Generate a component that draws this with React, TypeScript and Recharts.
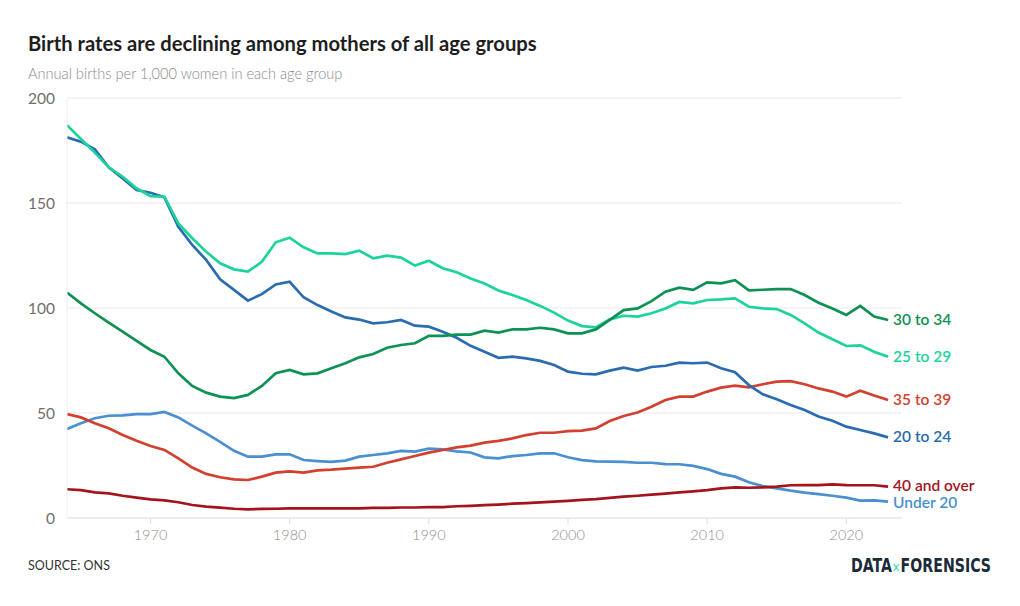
import React, { useLayoutEffect, useRef, useState } from "react";
import { LineChart, Line, XAxis, YAxis, CartesianGrid } from "recharts";

const years = [
  1964, 1965, 1966, 1967, 1968, 1969, 1970, 1971, 1972, 1973,
  1974, 1975, 1976, 1977, 1978, 1979, 1980, 1981, 1982, 1983,
  1984, 1985, 1986, 1987, 1988, 1989, 1990, 1991, 1992, 1993,
  1994, 1995, 1996, 1997, 1998, 1999, 2000, 2001, 2002, 2003,
  2004, 2005, 2006, 2007, 2008, 2009, 2010, 2011, 2012, 2013,
  2014, 2015, 2016, 2017, 2018, 2019, 2020, 2021, 2022, 2023,
];

const under20 = [
  42.4, 45.1, 47.5, 48.7, 48.9, 49.5, 49.5, 50.5, 47.9, 44.0,
  40.3, 36.3, 32.0, 29.2, 29.2, 30.3, 30.3, 27.6, 27.1, 26.7,
  27.3, 29.2, 30.0, 30.8, 32.0, 31.6, 33.0, 32.7, 31.7, 31.2,
  28.9, 28.4, 29.5, 30.0, 30.8, 30.8, 28.9, 27.6, 27.0, 26.8,
  26.7, 26.3, 26.3, 25.7, 25.6, 24.8, 23.3, 21.0, 19.7, 17.0,
  15.2, 14.1, 13.0, 12.1, 11.4, 10.6, 9.7, 8.3, 8.4, 7.8,
];

const age20to24 = [
  181.3, 179.2, 175.6, 167.0, 161.7, 156.2, 154.9, 152.7, 138.7, 130.0,
  122.9, 113.7, 108.6, 103.5, 106.6, 111.2, 112.5, 105.1, 101.4, 98.3,
  95.5, 94.5, 92.7, 93.2, 94.3, 91.6, 91.1, 88.7, 85.8, 82.0,
  79.2, 76.3, 76.8, 76.0, 74.8, 72.9, 69.7, 68.7, 68.4, 70.2,
  71.6, 70.2, 71.9, 72.5, 74.0, 73.7, 74.0, 71.3, 69.4, 63.3,
  58.9, 56.5, 53.8, 51.4, 48.3, 46.3, 43.5, 41.9, 40.3, 38.4,
];

const age25to29 = [
  187.1, 180.5, 174.0, 167.0, 162.5, 157.0, 153.3, 153.0, 140.3, 133.2,
  126.8, 121.3, 118.4, 117.3, 122.0, 131.3, 133.5, 128.9, 126.0, 126.0,
  125.7, 127.3, 123.7, 124.9, 124.0, 120.2, 122.5, 118.9, 117.0, 114.0,
  111.7, 108.3, 106.2, 103.8, 101.0, 97.8, 94.0, 91.4, 90.8, 94.6,
  96.3, 95.9, 97.5, 99.8, 102.9, 102.2, 103.8, 104.1, 104.6, 100.6,
  99.8, 99.5, 96.7, 92.7, 88.3, 85.1, 81.9, 82.2, 79.2, 76.8,
];

const age30to34 = [
  107.3, 102.2, 97.5, 93.0, 88.7, 84.3, 80.0, 76.8, 68.9, 62.9,
  59.7, 57.8, 57.1, 58.6, 62.9, 68.9, 70.5, 68.4, 68.9, 71.3,
  73.7, 76.5, 78.1, 81.1, 82.4, 83.2, 86.7, 86.7, 87.3, 87.3,
  89.2, 88.3, 89.8, 89.8, 90.6, 89.8, 87.9, 87.9, 89.8, 94.3,
  99.0, 99.8, 103.3, 107.8, 109.7, 108.6, 112.2, 111.7, 113.2, 108.4,
  108.7, 109.0, 109.0, 106.2, 102.5, 99.8, 96.7, 101.0, 95.9, 94.3,
];

const age35to39 = [
  49.5, 47.9, 45.1, 42.7, 39.5, 36.8, 34.3, 32.4, 28.4, 24.0,
  21.0, 19.4, 18.4, 18.1, 19.7, 21.6, 22.2, 21.6, 22.7, 23.0,
  23.5, 24.0, 24.4, 26.3, 27.9, 29.5, 31.1, 32.4, 33.6, 34.5,
  35.9, 36.7, 37.9, 39.5, 40.6, 40.6, 41.4, 41.6, 42.7, 46.2,
  48.6, 50.2, 53.0, 56.2, 57.8, 57.8, 60.2, 62.1, 63.0, 62.2,
  63.7, 64.9, 65.2, 63.7, 61.7, 60.2, 57.8, 60.6, 58.3, 56.2,
];

const age40plus = [
  13.7, 13.3, 12.2, 11.7, 10.6, 9.7, 8.9, 8.4, 7.5, 6.2,
  5.4, 4.9, 4.4, 4.1, 4.3, 4.4, 4.6, 4.6, 4.6, 4.6,
  4.6, 4.6, 4.8, 4.8, 5.0, 5.0, 5.2, 5.2, 5.6, 5.8,
  6.1, 6.4, 6.8, 7.1, 7.4, 7.8, 8.2, 8.6, 9.0, 9.6,
  10.2, 10.6, 11.1, 11.6, 12.2, 12.7, 13.3, 14.1, 14.6, 14.4,
  14.6, 14.9, 15.6, 15.7, 15.7, 16.0, 15.7, 15.6, 15.6, 14.9,
];

const xTicks = [1970, 1980, 1990, 2000, 2010, 2020];
const yTicks = [0, 50, 100, 150, 200];

const seriesDefs = [
  { key: "under20", name: "Under 20", values: under20, color: "#4a8fd0", dy: 6 },
  { key: "age40plus", name: "40 and over", values: age40plus, color: "#a3141b", dy: 4 },
  { key: "age35to39", name: "35 to 39", values: age35to39, color: "#d3402f", dy: 5 },
  { key: "age20to24", name: "20 to 24", values: age20to24, color: "#2a6cb0", dy: 5 },
  { key: "age25to29", name: "25 to 29", values: age25to29, color: "#1cd39b", dy: 5 },
  { key: "age30to34", name: "30 to 34", values: age30to34, color: "#0e9154", dy: 5 },
];

const data = years.map((year, i) => {
  const row: Record<string, number> = { year };
  seriesDefs.forEach((s) => {
    row[s.key] = s.values[i];
  });
  return row;
});

const FONT = "Lato, 'Open Sans', sans-serif";

const endLabel = (text: string, color: string, dy: number) => (props: any) => {
  if (props.index !== years.length - 1) return <g key={`e-${text}-${props.index}`} />;
  return (
    <text
      key={`lbl-${text}`}
      x={props.x + 5}
      y={props.y}
      dy={dy}
      fill={color}
      fontSize={15.5}
      fontWeight={600}
      fontFamily={FONT}
    >
      {text}
    </text>
  );
};

function Logo() {
  const ref = useRef<SVGTextElement | null>(null);
  const [sx, setSx] = useState(0.82);
  useLayoutEffect(() => {
    if (ref.current) {
      const w = ref.current.getComputedTextLength();
      if (w > 0) setSx(140 / w);
    }
  }, []);
  return (
    <g transform={`translate(851,572) scale(${sx},1)`}>
      <text
        ref={ref}
        x={0}
        y={0}
        fontFamily="'DejaVu Sans Condensed', 'DejaVu Sans', sans-serif"
        fontSize={19}
        fontWeight={700}
        fill="#1c2b3a"
      >
        DATA<tspan fill="#2bd1a0" fontWeight={400} fontSize={14}>×</tspan>FORENSICS
      </text>
    </g>
  );
}

export default function App() {
  return (
    <div
      style={{
        position: "absolute",
        left: 0,
        top: 0,
        width: 1020,
        height: 606,
        background: "#ffffff",
        overflow: "hidden",
      }}
    >
      <div style={{ position: "absolute", left: 0, top: 0 }}>
        <LineChart
          width={1020}
          height={606}
          data={data}
          margin={{ top: 98, right: 118, bottom: 58, left: 27 }}
        >
          <CartesianGrid vertical={false} stroke="#e9e9e9" />
          <XAxis
            dataKey="year"
            type="number"
            domain={[1964, 2024]}
            ticks={xTicks}
            height={30}
            tickSize={6}
            tickMargin={6}
            tickLine={{ stroke: "#dddddd" }}
            axisLine={{ stroke: "#e5e5e5" }}
            tick={{ fill: "#8f8f8f", fontSize: 14.5, fontFamily: FONT, fontWeight: 300 }}
            allowDataOverflow
          />
          <YAxis
            type="number"
            domain={[0, 200]}
            ticks={yTicks}
            width={40}
            tickSize={0}
            tickMargin={12}
            tickLine={false}
            axisLine={{ stroke: "#eeeeee" }}
            tick={{ fill: "#6e6e6e", fontSize: 15.5, fontFamily: FONT, fontWeight: 400 }}
          />
          {seriesDefs.map((s) => (
            <Line
              key={s.key}
              type="linear"
              dataKey={s.key}
              name={s.name}
              stroke={s.color}
              strokeWidth={2.7}
              dot={false}
              activeDot={false}
              isAnimationActive={false}
              label={endLabel(s.name, s.color, s.dy)}
            />
          ))}
        </LineChart>
      </div>
      <svg
        width={1020}
        height={606}
        style={{ position: "absolute", left: 0, top: 0, pointerEvents: "none" }}
      >
        <text x={28} y={51} fontFamily={FONT} fontSize={20.2} fontWeight={700} fill="#1e1e1e">
          Birth rates are declining among mothers of all age groups
        </text>
        <text x={28} y={79} fontFamily={FONT} fontSize={14.6} fontWeight={300} fill="#8a8a8a">
          Annual births per 1,000 women in each age group
        </text>
        <text x={28} y={570} fontFamily={FONT} fontSize={12.5} fontWeight={400} fill="#333333">
          SOURCE: ONS
        </text>
        <Logo />
      </svg>
    </div>
  );
}
